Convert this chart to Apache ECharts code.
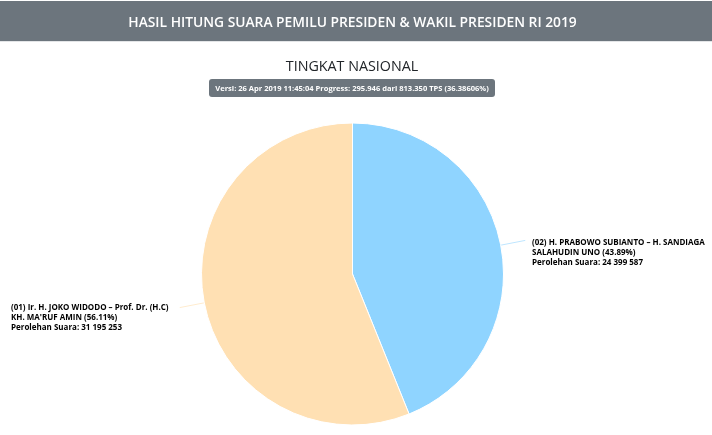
<!DOCTYPE html>
<html><head><meta charset="utf-8">
<style>html,body{margin:0;padding:0;background:#fff}#c{width:712px;height:435px}</style>
<script src="https://cdn.jsdelivr.net/npm/echarts@6/dist/echarts.min.js"></script></head>
<body><div id="c"></div>
<script>
const pageTitle = "HASIL HITUNG SUARA PEMILU PRESIDEN & WAKIL PRESIDEN RI 2019";
const subTitle = "TINGKAT NASIONAL";
const badge = "Versi: 26 Apr 2019 11:45:04 Progress: 295.946 dari 813.350 TPS (36.38606%)";
const candidates = ["(02) H. PRABOWO SUBIANTO – H. SANDIAGA\nSALAHUDIN UNO", "(01) Ir. H. JOKO WIDODO – Prof. Dr. (H.C)\nKH. MA'RUF AMIN"];
const percents = ["43.89", "56.11"];
const votes = [24399587, 31195253];
const voteLabels = ["24 399 587", "31 195 253"];
const colors = ["#8fd4ff", "#ffe0b3"];
const lineColors = ["#bfe6ff", "#ffeccf"];
const labelPos = [{x:532,y:252.5},{x:11,y:318}];
const font = '"Open Sans", sans-serif';
const chart = echarts.init(document.getElementById('c'));
chart.setOption({
  animation:false,
  graphic:[
    {type:'rect',z:0,shape:{x:0,y:1,width:712,height:40},style:{fill:'#6c757d'}},
    {type:'rect',z:0,shape:{x:0,y:41,width:712,height:1},style:{fill:'#e3e5e7'}},
    {type:'rect',z:0,shape:{x:209,y:79,width:286,height:18,r:3},style:{fill:'#6c757d'}}
  ],
  title:[
    {text:pageTitle,left:347.5,top:11,textAlign:'center',textStyle:{color:'#fff',fontFamily:font,fontSize:13.8,fontWeight:600}},
    {text:subTitle,left:347,top:55,textAlign:'center',textStyle:{color:'#212529',fontFamily:font,fontSize:14.3,fontWeight:400}},
    {text:badge,left:347,top:80,textAlign:'center',textStyle:{color:'#fff',fontFamily:font,fontSize:7.55,fontWeight:700}}
  ],
  series:[{
    type:'pie',
    center:[352.5,274],
    radius:[0,151],
    startAngle:90,
    clockwise:true,
    itemStyle:{borderColor:'#fff',borderWidth:1},
    data:votes.map((v,i)=>({
      name:candidates[i],value:v,
      itemStyle:{color:colors[i]},
      labelLine:{lineStyle:{color:lineColors[i],width:1}},
      label:{formatter:candidates[i]+" ("+percents[i]+"%)\nPerolehan Suara: "+voteLabels[i]}
    })),
    label:{show:true,position:'outside',color:'#000',fontFamily:font,fontSize:8,fontWeight:700,lineHeight:10,align:'left',overflow:'none',edgeDistance:0,width:200},
    labelLine:{show:true,length:25,length2:0,smooth:false},
    labelLayout:function(p){
      const i=p.dataIndex, q=p.labelLinePoints;
      return {x:labelPos[i].x,y:labelPos[i].y,align:'left',verticalAlign:'middle',labelLinePoints:[q[0],q[1],q[1]]};
    }
  }]
});
</script></body></html>
